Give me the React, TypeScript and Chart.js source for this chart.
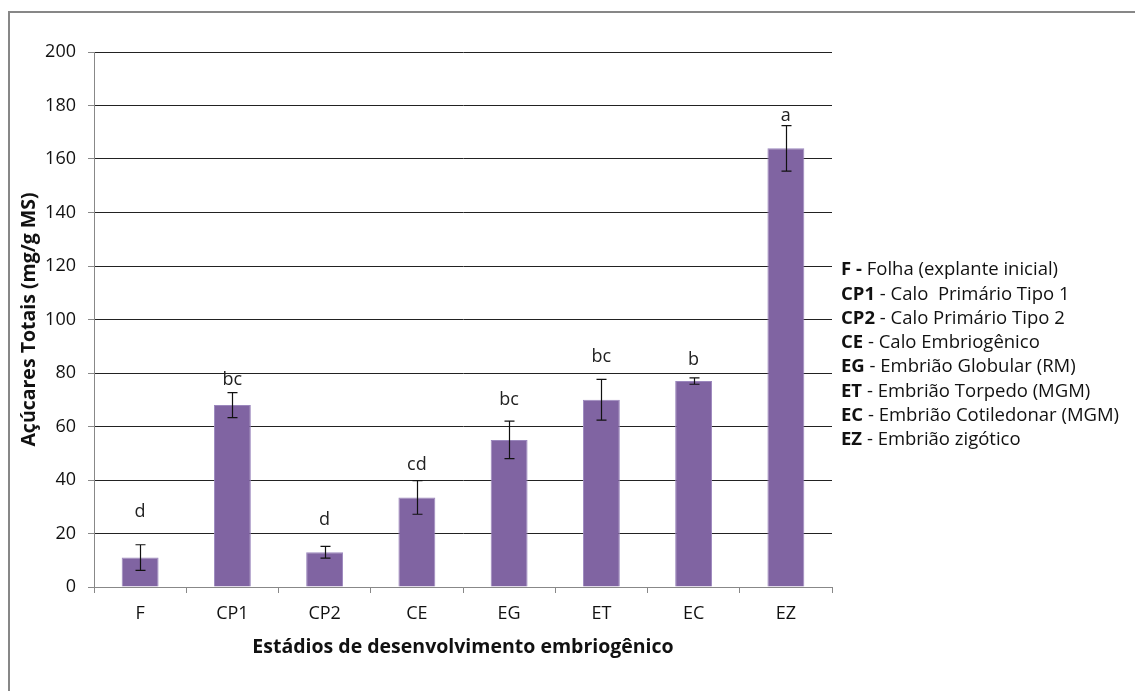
import React, { useEffect, useRef } from "react";
import { Chart, registerables } from "chart.js";

Chart.register(...registerables);

const categories = ["F", "CP1", "CP2", "CE", "EG", "ET", "EC", "EZ"];
const means = [11, 68, 13, 33.5, 55, 70, 77, 164];
const errors = [4.8, 4.7, 2.2, 6.3, 7, 7.6, 1.2, 8.5];
const letters = ["d", "bc", "d", "cd", "bc", "bc", "b", "a"];
const letterLevels = [28, 77.5, 25, 45.5, 70, 86, 85, 176];
const legendCodes = ["F -", "CP1", "CP2", "CE", "EG", "ET", "EC", "EZ"];
const legendTexts = [
  " Folha (explante inicial)",
  " - Calo  Primário Tipo 1",
  " - Calo Primário Tipo 2",
  " - Calo Embriogênico",
  " - Embrião Globular (RM)",
  " - Embrião Torpedo (MGM)",
  " - Embrião Cotiledonar (MGM)",
  " - Embrião zigótico",
];
const yTitle = "Açúcares Totais (mg/g MS)";
const xTitle = "Estádios de desenvolvimento embriogênico";

const FONT = "'Open Sans', 'Noto Sans', sans-serif";

const overlayPlugin = {
  id: "overlay",
  afterDatasetsDraw(chart: any) {
    const ctx = chart.ctx;
    const meta = chart.getDatasetMeta(0);
    const y = chart.scales.y;
    ctx.save();
    ctx.strokeStyle = "#111";
    ctx.lineWidth = 1.2;
    meta.data.forEach((bar: any, i: number) => {
      const x = Math.round(bar.x) + 0.5;
      const top = y.getPixelForValue(means[i] + errors[i]);
      const bot = y.getPixelForValue(means[i] - errors[i]);
      ctx.beginPath();
      ctx.moveTo(x, top);
      ctx.lineTo(x, bot);
      ctx.moveTo(x - 5, top);
      ctx.lineTo(x + 5, top);
      ctx.moveTo(x - 5, bot);
      ctx.lineTo(x + 5, bot);
      ctx.stroke();
    });
    ctx.fillStyle = "#222";
    ctx.font = `18px ${FONT}`;
    ctx.textAlign = "center";
    ctx.textBaseline = "middle";
    meta.data.forEach((bar: any, i: number) => {
      ctx.fillText(letters[i], bar.x, y.getPixelForValue(letterLevels[i]));
    });
    ctx.restore();
  },
  afterDraw(chart: any) {
    const ctx = chart.ctx;
    ctx.save();
    ctx.fillStyle = "#111";
    ctx.textBaseline = "middle";
    ctx.textAlign = "left";
    const x0 = chart.chartArea.right + 9;
    const y0 = 270;
    const step = 24.3;
    legendCodes.forEach((code, i) => {
      const yy = y0 + i * step;
      ctx.font = `bold 18.5px ${FONT}`;
      ctx.fillText(code, x0, yy);
      const w = ctx.measureText(code).width;
      ctx.font = `18.5px ${FONT}`;
      ctx.fillText(legendTexts[i], x0 + w, yy);
    });
    ctx.restore();
  },
};

export default function App() {
  const ref = useRef<HTMLCanvasElement | null>(null);
  useEffect(() => {
    if (!ref.current) return;
    const chart = new Chart(ref.current, {
      type: "bar",
      data: {
        labels: categories,
        datasets: [
          {
            data: means,
            backgroundColor: "#8064A2",
            borderColor: "#9b87bd",
            borderWidth: 1,
            barPercentage: 0.4,
            categoryPercentage: 1,
          },
        ],
      },
      options: {
        animation: false,
        responsive: false,
        maintainAspectRatio: false,
        layout: { padding: { left: 0, top: 52, right: 303, bottom: 0 } },
        plugins: { legend: { display: false }, tooltip: { enabled: false } },
        scales: {
          x: {
            afterFit: (s: any) => {
              s.height = 104;
            },
            grid: {
              offset: true,
              drawOnChartArea: false,
              tickLength: 6,
              tickColor: "#888",
            },
            border: { color: "#888", width: 1 },
            ticks: { color: "#111", font: { family: FONT, size: 18 }, padding: 10 },
            title: {
              display: true,
              text: xTitle,
              color: "#111",
              font: { family: FONT, size: 19.5, weight: "bold" },
              padding: { top: 0, bottom: 32 },
            },
          },
          y: {
            min: 0,
            max: 200,
            afterFit: (s: any) => {
              s.width = 94;
            },
            grid: {
              color: (c: any) => (c.tick && c.tick.value === 0 ? "#888" : "#222"),
              tickLength: 6,
              tickColor: "#888",
            },
            border: { color: "#888", width: 1 },
            ticks: {
              stepSize: 20,
              color: "#111",
              font: { family: FONT, size: 18 },
              padding: 12,
            },
            title: {
              display: true,
              text: yTitle,
              color: "#111",
              font: { family: FONT, size: 19.5, weight: "bold" },
              padding: { top: 18, bottom: 0 },
            },
          },
        },
      },
      plugins: [overlayPlugin],
    });
    return () => chart.destroy();
  }, []);

  return (
    <div
      style={{
        position: "fixed",
        left: 0,
        top: 0,
        width: 1135,
        height: 691,
        overflow: "hidden",
        background: "#fff",
      }}
    >
      <div
        style={{
          position: "absolute",
          left: 8,
          top: 11,
          width: 1200,
          height: 800,
          border: "2px solid #878787",
        }}
      />
      <canvas
        ref={ref}
        width={1135}
        height={691}
        style={{ position: "absolute", left: 0, top: 0, width: 1135, height: 691 }}
      />
    </div>
  );
}
